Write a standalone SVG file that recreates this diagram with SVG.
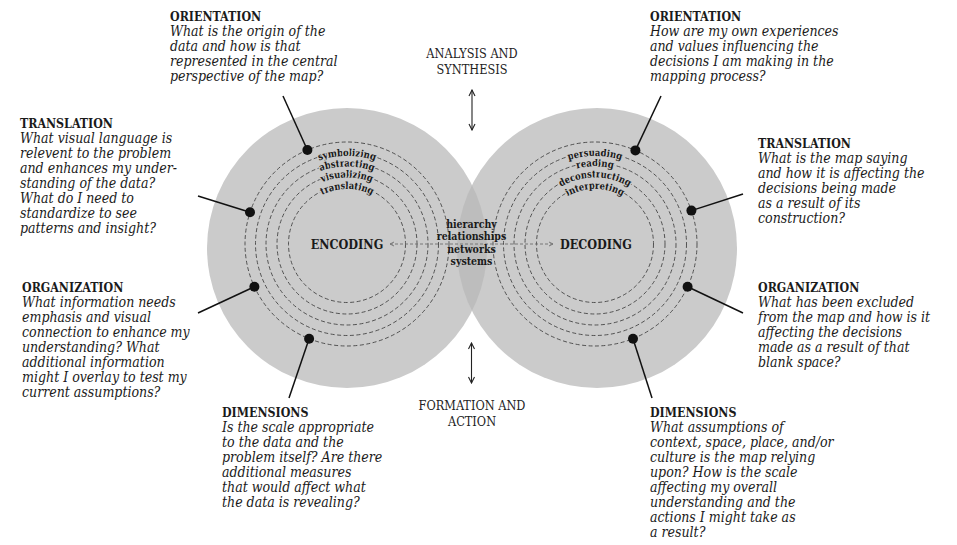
<svg xmlns="http://www.w3.org/2000/svg" width="957" height="545" viewBox="0 0 957 545">
<style>
.hd{font-family:'DejaVu Serif Condensed','DejaVu Serif','Liberation Serif',serif;font-stretch:condensed;font-weight:bold;font-size:12.3px;fill:#1a1a1a}
.bd{font-family:'DejaVu Serif Condensed','DejaVu Serif','Liberation Serif',serif;font-stretch:condensed;font-style:italic;font-size:14px;fill:#1a1a1a}
.cap{font-family:'DejaVu Serif Condensed','DejaVu Serif','Liberation Serif',serif;font-stretch:condensed;font-size:12.6px;fill:#222;text-anchor:middle}
.big{font-family:'DejaVu Serif Condensed','DejaVu Serif','Liberation Serif',serif;font-stretch:condensed;font-weight:bold;font-size:12.5px;fill:#1a1a1a;text-anchor:middle}
.mid{font-family:'DejaVu Serif Condensed','DejaVu Serif','Liberation Serif',serif;font-stretch:condensed;font-weight:bold;font-size:10.5px;fill:#1a1a1a;text-anchor:middle}
.rl{font-family:'DejaVu Serif Condensed','DejaVu Serif','Liberation Serif',serif;font-stretch:condensed;font-weight:bold;font-size:9.8px;fill:#1a1a1a;stroke:#cbcbcb;stroke-width:2.5;paint-order:stroke;stroke-linejoin:round}
.ring{fill:none;stroke:#444;stroke-width:0.9;stroke-dasharray:4 2.5}
.lead{stroke:#111;stroke-width:1.5;fill:none}
.dot{fill:#111}
.arr{stroke:#222;stroke-width:1.1;fill:none}
.dash{stroke:#777;stroke-width:1;stroke-dasharray:3 2;fill:none}
</style>
<defs>
<clipPath id="clipL"><circle cx="347" cy="248" r="140"/></clipPath>
<marker id="chev" viewBox="0 0 8 8" refX="7" refY="4" markerWidth="8" markerHeight="8" markerUnits="userSpaceOnUse" orient="auto-start-reverse"><path d="M1,1 L7,4 L1,7" fill="none" stroke="#222" stroke-width="1.1"/></marker>
<marker id="chevg" viewBox="0 0 6 6" refX="5" refY="3" markerWidth="6" markerHeight="6" markerUnits="userSpaceOnUse" orient="auto-start-reverse"><path d="M1,1 L5,3 L1,5" fill="none" stroke="#777" stroke-width="1"/></marker>
<path id="aL2" d="M 255.5 244 A 91.5 91.5 0 0 1 438.5 244"/>
<path id="aL3" d="M 266 244 A 81 81 0 0 1 428 244"/>
<path id="aL4" d="M 277 244 A 70 70 0 0 1 417 244"/>
<path id="aL5" d="M 288.5 244 A 58.5 58.5 0 0 1 405.5 244"/>
<path id="aR2" d="M 503.5 244 A 91.5 91.5 0 0 1 686.5 244"/>
<path id="aR3" d="M 514 244 A 81 81 0 0 1 676 244"/>
<path id="aR4" d="M 525 244 A 70 70 0 0 1 665 244"/>
<path id="aR5" d="M 536.5 244 A 58.5 58.5 0 0 1 653.5 244"/>
</defs>
<rect width="957" height="545" fill="#fff"/>

<g id="encoding">
<circle cx="347" cy="248" r="140" fill="#cbcbcb"/>
</g>
<g id="decoding">
<circle cx="597" cy="248" r="140" fill="#cbcbcb"/>
<circle cx="597" cy="248" r="140" fill="#bdbdbd" clip-path="url(#clipL)"/>
</g>

<g id="rings-left">
<circle class="ring" cx="347" cy="244" r="102"/>
<circle class="ring" cx="347" cy="244" r="91.5"/>
<circle class="ring" cx="347" cy="244" r="81"/>
<circle class="ring" cx="347" cy="244" r="70"/>
<circle class="ring" cx="347" cy="244" r="58.5"/>
<text class="rl" dy="3.4"><textPath href="#aL2" startOffset="50%" text-anchor="middle">symbolizing</textPath></text>
<text class="rl" dy="3.4"><textPath href="#aL3" startOffset="50%" text-anchor="middle">abstracting</textPath></text>
<text class="rl" dy="3.4"><textPath href="#aL4" startOffset="50%" text-anchor="middle">visualizing</textPath></text>
<text class="rl" dy="3.4"><textPath href="#aL5" startOffset="50%" text-anchor="middle">translating</textPath></text>
<text class="big" x="347" y="248.5">ENCODING</text>
</g>

<g id="rings-right">
<circle class="ring" cx="595" cy="244" r="102"/>
<circle class="ring" cx="595" cy="244" r="91.5"/>
<circle class="ring" cx="595" cy="244" r="81"/>
<circle class="ring" cx="595" cy="244" r="70"/>
<circle class="ring" cx="595" cy="244" r="58.5"/>
<text class="rl" dy="3.4"><textPath href="#aR2" startOffset="50%" text-anchor="middle">persuading</textPath></text>
<text class="rl" dy="3.4"><textPath href="#aR3" startOffset="50%" text-anchor="middle">reading</textPath></text>
<text class="rl" dy="3.4"><textPath href="#aR4" startOffset="50%" text-anchor="middle">deconstructing</textPath></text>
<text class="rl" dy="3.4"><textPath href="#aR5" startOffset="50%" text-anchor="middle">interpreting</textPath></text>
<text class="big" x="596" y="248.5">DECODING</text>
</g>

<g id="connectors">
<line class="dash" x1="390" y1="244" x2="553" y2="244" marker-start="url(#chevg)" marker-end="url(#chevg)"/>
<line class="arr" x1="472" y1="90" x2="472" y2="130" marker-start="url(#chev)" marker-end="url(#chev)"/>
<line class="arr" x1="471.5" y1="343" x2="471.5" y2="383" marker-start="url(#chev)" marker-end="url(#chev)"/>
<line class="lead" x1="283" y1="96" x2="307.4" y2="150"/>
<line class="lead" x1="198" y1="196" x2="250" y2="212.3"/>
<line class="lead" x1="198" y1="313" x2="254.4" y2="286.8"/>
<line class="lead" x1="289" y1="398" x2="309.1" y2="338.7"/>
<line class="lead" x1="661" y1="96" x2="635.4" y2="150.4"/>
<line class="lead" x1="743" y1="194" x2="691.4" y2="210.6"/>
<line class="lead" x1="743" y1="313" x2="687.6" y2="286.8"/>
<line class="lead" x1="652" y1="398" x2="633" y2="338.7"/>
<circle class="dot" cx="307.4" cy="150" r="5"/>
<circle class="dot" cx="250" cy="212.3" r="5"/>
<circle class="dot" cx="254.4" cy="286.8" r="5"/>
<circle class="dot" cx="309.1" cy="338.7" r="5"/>
<circle class="dot" cx="635.4" cy="150.4" r="5"/>
<circle class="dot" cx="691.4" cy="210.6" r="5"/>
<circle class="dot" cx="687.6" cy="286.8" r="5"/>
<circle class="dot" cx="633" cy="338.7" r="5"/>
</g>

<g id="center-terms">
<text class="mid" x="471.5" y="228">hierarchy</text>
<text class="mid" x="471.5" y="240">relationships</text>
<text class="mid" x="471.5" y="252.5">networks</text>
<text class="mid" x="471.5" y="264.5">systems</text>
</g>

<g id="analysis">
<text class="cap" x="472" y="58">ANALYSIS AND</text>
<text class="cap" x="472" y="74">SYNTHESIS</text>
</g>
<g id="formation">
<text class="cap" x="472" y="410">FORMATION AND</text>
<text class="cap" x="472" y="426">ACTION</text>
</g>

<g id="left-orientation">
<text class="hd" x="170" y="21">ORIENTATION</text>
<text class="bd" x="170" y="35.5">What is the origin of the</text>
<text class="bd" x="170" y="50.5">data and how is that</text>
<text class="bd" x="170" y="65.5">represented in the central</text>
<text class="bd" x="170" y="80.5">perspective of the map?</text>
</g>
<g id="left-translation">
<text class="hd" x="20" y="128">TRANSLATION</text>
<text class="bd" x="20" y="142.7">What visual language is</text>
<text class="bd" x="20" y="157.7">relevent to the problem</text>
<text class="bd" x="20" y="172.7">and enhances my under-</text>
<text class="bd" x="20" y="187.7">standing of the data?</text>
<text class="bd" x="20" y="202.7">What do I need to</text>
<text class="bd" x="20" y="217.7">standardize to see</text>
<text class="bd" x="20" y="232.7">patterns and insight?</text>
</g>
<g id="left-organization">
<text class="hd" x="22" y="291.7">ORGANIZATION</text>
<text class="bd" x="22" y="306.7">What information needs</text>
<text class="bd" x="22" y="321.7">emphasis and visual</text>
<text class="bd" x="22" y="336.7">connection to enhance my</text>
<text class="bd" x="22" y="351.7">understanding? What</text>
<text class="bd" x="22" y="366.7">additional information</text>
<text class="bd" x="22" y="381.7">might I overlay to test my</text>
<text class="bd" x="22" y="396.7">current assumptions?</text>
</g>
<g id="left-dimensions">
<text class="hd" x="222" y="416.7">DIMENSIONS</text>
<text class="bd" x="222" y="431.7">Is the scale appropriate</text>
<text class="bd" x="222" y="446.7">to the data and the</text>
<text class="bd" x="222" y="461.7">problem itself? Are there</text>
<text class="bd" x="222" y="476.7">additional measures</text>
<text class="bd" x="222" y="491.7">that would affect what</text>
<text class="bd" x="222" y="506.7">the data is revealing?</text>
</g>

<g id="right-orientation">
<text class="hd" x="650" y="21">ORIENTATION</text>
<text class="bd" x="650" y="35.5">How are my own experiences</text>
<text class="bd" x="650" y="50.5">and values influencing the</text>
<text class="bd" x="650" y="65.5">decisions I am making in the</text>
<text class="bd" x="650" y="80.5">mapping process?</text>
</g>
<g id="right-translation">
<text class="hd" x="758" y="148">TRANSLATION</text>
<text class="bd" x="758" y="162.7">What is the map saying</text>
<text class="bd" x="758" y="177.7">and how it is affecting the</text>
<text class="bd" x="758" y="192.7">decisions being made</text>
<text class="bd" x="758" y="207.7">as a result of its</text>
<text class="bd" x="758" y="222.7">construction?</text>
</g>
<g id="right-organization">
<text class="hd" x="758" y="292">ORGANIZATION</text>
<text class="bd" x="758" y="306.7">What has been excluded</text>
<text class="bd" x="758" y="321.7">from the map and how is it</text>
<text class="bd" x="758" y="336.7">affecting the decisions</text>
<text class="bd" x="758" y="351.7">made as a result of that</text>
<text class="bd" x="758" y="366.7">blank space?</text>
</g>
<g id="right-dimensions">
<text class="hd" x="650" y="417">DIMENSIONS</text>
<text class="bd" x="650" y="431.7">What assumptions of</text>
<text class="bd" x="650" y="446.7">context, space, place, and/or</text>
<text class="bd" x="650" y="461.7">culture is the map relying</text>
<text class="bd" x="650" y="476.7">upon? How is the scale</text>
<text class="bd" x="650" y="491.7">affecting my overall</text>
<text class="bd" x="650" y="506.7">understanding and the</text>
<text class="bd" x="650" y="521.7">actions I might take as</text>
<text class="bd" x="650" y="536.7">a result?</text>
</g>
</svg>
